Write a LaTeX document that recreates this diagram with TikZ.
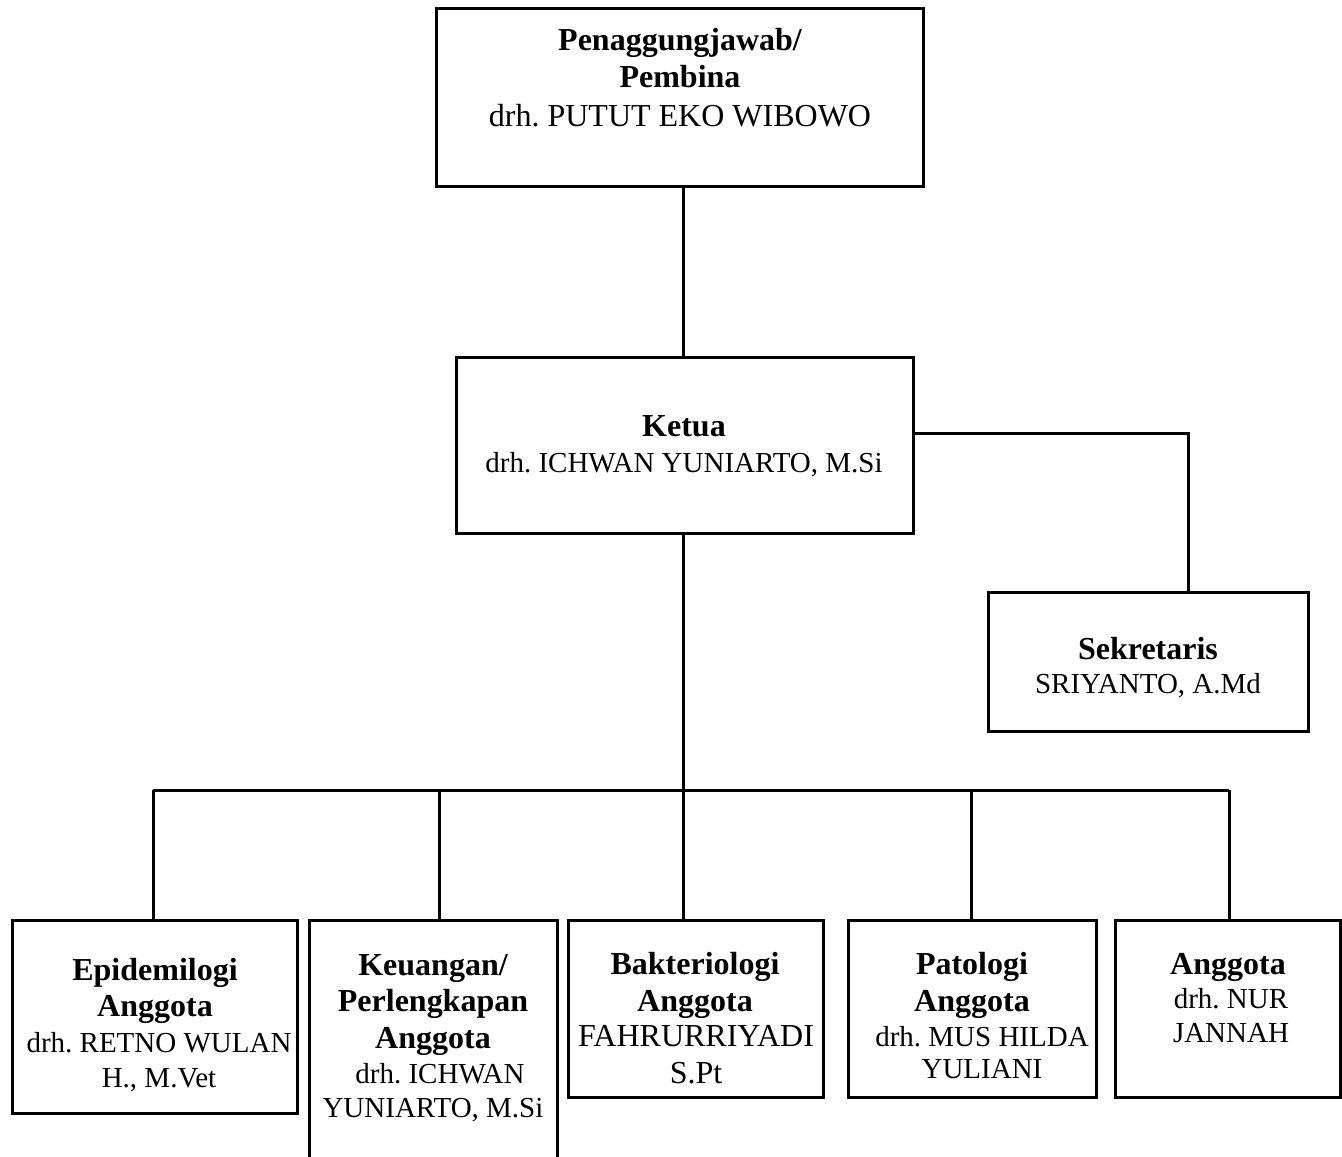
\documentclass[tikz,border=0pt]{standalone}
\usepackage{fontspec}
\setmainfont{Liberation Serif}
\frenchspacing
\begin{document}
\begin{tikzpicture}[x=1pt,y=-1pt,
  box/.style={draw=black, line width=3pt, rectangle, inner sep=0pt, fill=white},
  ttl/.style={anchor=base, inner sep=0pt, font=\fontsize{32}{37}\selectfont\bfseries},
  nm/.style={anchor=base, inner sep=0pt, font=\fontsize{29}{34}\selectfont},
  nmL/.style={anchor=base, inner sep=0pt, font=\fontsize{32}{37}\selectfont},
  conn/.style={draw=black, line width=3pt, line join=miter}]
\useasboundingbox (0,0) rectangle (1342,1157);
\clip (0,0) rectangle (1342,1157);
\fill[white] (0,0) rectangle (1342,1157);

\coordinate (bus) at (683,790);

% boxes
\node[box, minimum width=487pt, minimum height=178pt] (top) at (679.5,97) {};
\node[box, minimum width=457pt, minimum height=176pt] (ketua) at (684.5,445) {};
\node[box, minimum width=320pt, minimum height=139pt] (sek) at (1148,661.5) {};
\node[box, minimum width=285pt, minimum height=193pt] (b1) at (154.5,1016.5) {};
\node[box, minimum width=248pt, minimum height=270pt] (b2) at (433,1055) {};
\node[box, minimum width=255pt, minimum height=177pt] (b3) at (695.5,1008.5) {};
\node[box, minimum width=248pt, minimum height=177pt] (b4) at (972,1008.5) {};
\node[box, minimum width=225pt, minimum height=177pt] (b5) at (1227.5,1008.5) {};

% connectors
\draw[conn] (ketua.north -| 683,0) -- (683,0 |- top.south);
\draw[conn] ([yshift=12pt]ketua.east) -| ([xshift=40pt]sek.north);
\draw[conn] (ketua.south -| bus) -- (bus |- b3.north);
\draw[conn] (153,0 |- bus) -- (1229,0 |- bus);
\draw[conn] (153,0 |- bus) -- (153,0 |- b1.north);
\draw[conn] (439,0 |- bus) -- (439,0 |- b2.north);
\draw[conn] (971,0 |- bus) -- (971,0 |- b4.north);
\draw[conn] (1229,0 |- bus) -- (1229,0 |- b5.north);

% texts
\node[ttl] (t1a) at (680,50) {Penaggungjawab/};
\node[ttl] (t1b) at (680,87.5) {Pembina};
\node[nmL] (t1c) at (680,126) {drh. PUTUT EKO WIBOWO};

\node[ttl] (t2a) at (684,436) {Ketua};
\node[nm] (t2b) at (684,472) {drh. ICHWAN YUNIARTO, M.Si};

\node[ttl] (t3a) at (1148,659) {Sekretaris};
\node[nm] (t3b) at (1148,693) {SRIYANTO, A.Md};

\node[ttl] (t4a) at (155,980) {Epidemilogi};
\node[ttl] (t4b) at (155,1016.5) {Anggota};
\node[nm] (t4c) at (159,1052) {drh. RETNO WULAN};
\node[nm] (t4d) at (159,1087) {H., M.Vet};

\node[ttl] (t5a) at (433,975) {Keuangan/};
\node[ttl] (t5b) at (433,1011.5) {Perlengkapan};
\node[ttl] (t5c) at (433,1048) {Anggota};
\node[nm] (t5d) at (440,1083) {drh. ICHWAN};
\node[nm] (t5e) at (433,1117) {YUNIARTO, M.Si};

\node[ttl] (t6a) at (695,974.5) {Bakteriologi};
\node[ttl] (t6b) at (695,1011) {Anggota};
\node[nmL] (t6c) at (696,1046.5) {FAHRURRIYADI};
\node[nmL] (t6d) at (696,1083) {S.Pt};

\node[ttl] (t7a) at (972,974.5) {Patologi};
\node[ttl] (t7b) at (972,1011) {Anggota};
\node[nm] (t7c) at (982,1046.5) {drh. MUS HILDA};
\node[nm] (t7d) at (982,1078) {YULIANI};

\node[ttl] (t8a) at (1228,974.5) {Anggota};
\node[nm] (t8b) at (1231,1008) {drh. NUR};
\node[nm] (t8c) at (1231,1042.5) {JANNAH};
\end{tikzpicture}
\end{document}
